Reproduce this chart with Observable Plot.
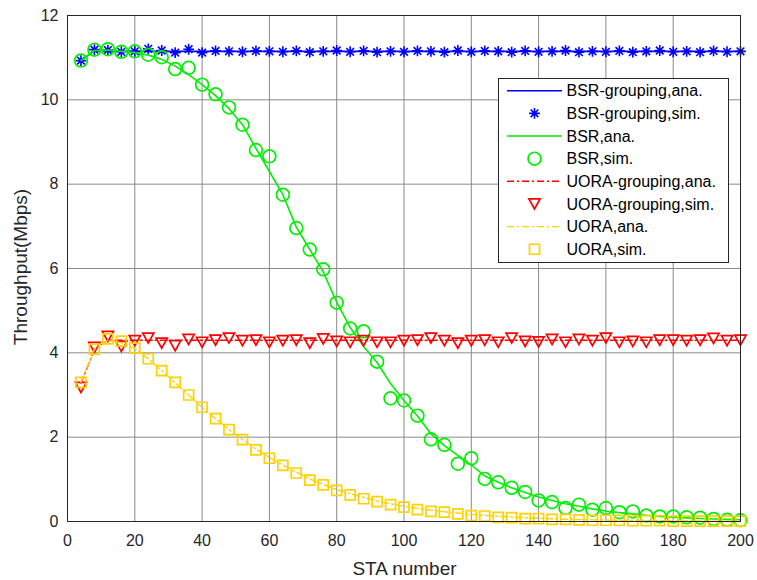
<!DOCTYPE html>
<html>
<head>
<meta charset="utf-8">
<script src="https://cdn.jsdelivr.net/npm/d3@7"></script>
<script src="https://cdn.jsdelivr.net/npm/@observablehq/plot@0.6"></script>
<style>
  html, body { margin: 0; padding: 0; background: #fff; }
  #chart svg { display: block; }
</style>
</head>
<body>
<div id="chart"></div>
<script>
// ---- data ----
const staNumber = [4,8,12,16,20,24,28,32,36,40,44,48,52,56,60,64,68,72,76,80,84,88,92,96,100,104,108,112,116,120,124,128,132,136,140,144,148,152,156,160,164,168,172,176,180,184,188,192,196,200];

const bsrGroupingAna = [10.93,11.16,11.16,11.15,11.15,11.15,11.15,11.15,11.15,11.15,11.15,11.15,11.15,11.15,11.15,11.15,11.15,11.15,11.15,11.15,11.15,11.15,11.15,11.15,11.15,11.15,11.15,11.15,11.15,11.15,11.15,11.15,11.15,11.15,11.15,11.15,11.15,11.15,11.15,11.15,11.15,11.15,11.15,11.15,11.15,11.15,11.15,11.15,11.15,11.15];
const bsrGroupingSim = [10.93,11.19,11.18,11.14,11.15,11.21,11.17,11.12,11.2,11.12,11.16,11.15,11.14,11.16,11.15,11.14,11.16,11.13,11.15,11.17,11.14,11.16,11.13,11.15,11.14,11.16,11.15,11.13,11.17,11.14,11.16,11.15,11.13,11.16,11.14,11.15,11.17,11.13,11.15,11.14,11.16,11.13,11.15,11.17,11.14,11.15,11.13,11.16,11.14,11.15];

const bsrAna = [10.93,11.17,11.18,11.15,11.12,11.06,10.96,10.8,10.6,10.36,10.1,9.79,9.41,8.85,8.3,7.75,6.98,6.45,5.92,5.2,4.6,4.15,3.77,3.27,2.87,2.5,2.08,1.8,1.57,1.34,1.08,0.93,0.8,0.69,0.58,0.5,0.42,0.36,0.3,0.25,0.21,0.18,0.15,0.12,0.1,0.085,0.07,0.06,0.05,0.04];
const bsrSim = [10.93,11.19,11.2,11.14,11.15,11.07,11.01,10.73,10.76,10.36,10.13,9.82,9.41,8.81,8.66,7.75,6.96,6.45,5.98,5.19,4.58,4.51,3.79,2.92,2.87,2.51,1.95,1.82,1.37,1.5,1.01,0.93,0.8,0.7,0.5,0.46,0.32,0.4,0.28,0.32,0.22,0.24,0.14,0.12,0.12,0.1,0.09,0.06,0.04,0.03];

const uoraGroupingAna = [3.28,4.08,4.3,4.3,4.3,4.3,4.3,4.3,4.3,4.3,4.3,4.3,4.3,4.3,4.3,4.3,4.3,4.3,4.3,4.3,4.3,4.3,4.3,4.3,4.3,4.3,4.3,4.3,4.3,4.3,4.3,4.3,4.3,4.3,4.3,4.3,4.3,4.3,4.3,4.3,4.3,4.3,4.3,4.3,4.3,4.3,4.3,4.3,4.3,4.3];
const uoraGroupingSim = [3.18,4.13,4.39,4.15,4.29,4.35,4.23,4.17,4.32,4.25,4.3,4.35,4.29,4.3,4.25,4.29,4.3,4.23,4.33,4.27,4.25,4.29,4.25,4.25,4.29,4.3,4.35,4.29,4.23,4.29,4.3,4.25,4.35,4.27,4.26,4.32,4.25,4.32,4.29,4.35,4.25,4.27,4.25,4.3,4.3,4.29,4.3,4.34,4.29,4.3];

const uoraAna = [3.3,4.08,4.3,4.24,4.1,3.86,3.58,3.29,3.0,2.71,2.44,2.18,1.94,1.72,1.52,1.34,1.17,1.01,0.88,0.76,0.66,0.57,0.49,0.42,0.36,0.31,0.27,0.23,0.2,0.17,0.145,0.125,0.105,0.09,0.075,0.064,0.054,0.046,0.039,0.033,0.028,0.024,0.02,0.017,0.014,0.012,0.01,0.009,0.008,0.007];
const uoraSim = [3.3,4.09,4.33,4.28,4.11,3.86,3.58,3.3,3.0,2.71,2.44,2.18,1.94,1.7,1.5,1.33,1.15,0.98,0.87,0.74,0.63,0.54,0.47,0.4,0.34,0.28,0.24,0.22,0.18,0.14,0.13,0.1,0.09,0.07,0.07,0.05,0.05,0.04,0.03,0.03,0.03,0.02,0.02,0.02,0.01,0.01,0.01,0.01,0.01,0.01];

const xTicks = [0,20,40,60,80,100,120,140,160,180,200];
const yTicks = [0,2,4,6,8,10,12];
const seriesLabels = ["BSR-grouping,ana.","BSR-grouping,sim.","BSR,ana.","BSR,sim.","UORA-grouping,ana.","UORA-grouping,sim.","UORA,ana.","UORA,sim."];

// ---- styles ----
const BLUE = "#0000ff", GREEN = "#00f000", RED = "#ff0000", YELLOW = "#ffd200";
const DASHDOT = "7,3,2,3";

// custom MATLAB-like marker symbols
const symAsterisk = {draw(ctx, size) {
  const r = Math.sqrt(size / Math.PI), d = r * Math.SQRT1_2;
  ctx.moveTo(-r, 0); ctx.lineTo(r, 0);
  ctx.moveTo(0, -r); ctx.lineTo(0, r);
  ctx.moveTo(-d, -d); ctx.lineTo(d, d);
  ctx.moveTo(-d, d); ctx.lineTo(d, -d);
}};
const symTriDown = {draw(ctx, size) {
  const r = Math.sqrt(size / Math.PI), h = r * 0.9;
  ctx.moveTo(-r, -h); ctx.lineTo(r, -h); ctx.lineTo(0, h); ctx.closePath();
}};
const symSquare = {draw(ctx, size) {
  const r = Math.sqrt(size / Math.PI);
  ctx.moveTo(-r, -r); ctx.lineTo(r, -r); ctx.lineTo(r, r); ctx.lineTo(-r, r); ctx.closePath();
}};
const symCircle = {draw(ctx, size) {
  const r = Math.sqrt(size / Math.PI);
  ctx.moveTo(r, 0); ctx.arc(0, 0, r, 0, 2 * Math.PI);
}};

const rows = (arr) => staNumber.map((v, i) => ({x: v, y: arr[i]}));

const series = [
  {label: seriesLabels[0], data: rows(bsrGroupingAna), kind: "line", color: BLUE, width: 1.6},
  {label: seriesLabels[1], data: rows(bsrGroupingSim), kind: "dot", color: BLUE, symbol: symAsterisk, r: 5.4, width: 1.6},
  {label: seriesLabels[2], data: rows(bsrAna), kind: "line", color: GREEN, width: 1.6},
  {label: seriesLabels[3], data: rows(bsrSim), kind: "dot", color: GREEN, symbol: symCircle, r: 6.4, width: 1.7},
  {label: seriesLabels[4], data: rows(uoraGroupingAna), kind: "line", color: RED, width: 1.4, dash: DASHDOT},
  {label: seriesLabels[5], data: rows(uoraGroupingSim), kind: "dot", color: RED, symbol: symTriDown, r: 5.6, width: 1.7},
  {label: seriesLabels[6], data: rows(uoraAna), kind: "line", color: YELLOW, width: 1.4, dash: DASHDOT},
  {label: seriesLabels[7], data: rows(uoraSim), kind: "dot", color: YELLOW, symbol: symSquare, r: 5.0, width: 1.7}
];

const seriesMarks = series.map(s => s.kind === "line"
  ? Plot.line(s.data, {x: "x", y: "y", stroke: s.color, strokeWidth: s.width, strokeDasharray: s.dash || null})
  : Plot.dot(s.data, {x: "x", y: "y", stroke: s.color, fill: "none", strokeWidth: s.width, symbol: s.symbol, r: s.r}));

const FONT = "'Liberation Sans', Arial, Helvetica, sans-serif";
const TXT = "#262626";

const chart = Plot.plot({
  width: 757,
  height: 580,
  marginLeft: 67,
  marginRight: 17,
  marginTop: 15,
  marginBottom: 59,
  style: {fontFamily: FONT, fontSize: "16px", color: TXT, background: "#fff", overflow: "visible"},
  x: {domain: [0, 200], ticks: xTicks},
  y: {domain: [0, 12], ticks: yTicks},
  marks: [
    Plot.gridX(xTicks, {stroke: "#8a8a8a", strokeOpacity: 1, strokeWidth: 1}),
    Plot.gridY(yTicks, {stroke: "#8a8a8a", strokeOpacity: 1, strokeWidth: 1}),
    Plot.axisX(xTicks, {tickSize: 0, tickPadding: 13, fontSize: 16, fill: TXT, label: null}),
    Plot.axisY(yTicks, {tickSize: 0, tickPadding: 9, fontSize: 16, fill: TXT, label: null}),
    ...seriesMarks,
    Plot.frame({stroke: TXT, strokeWidth: 1})
  ]
});

document.getElementById("chart").appendChild(chart);

// axis titles and legend
const svg = d3.select(chart);
svg.append("text")
  .attr("x", 404.5).attr("y", 575)
  .attr("text-anchor", "middle")
  .attr("font-family", FONT).attr("font-size", 19).attr("fill", TXT)
  .text("STA number");
svg.append("text")
  .attr("transform", "translate(27,267) rotate(-90)")
  .attr("text-anchor", "middle")
  .attr("font-family", FONT).attr("font-size", 19).attr("fill", TXT)
  .text("Throughput(Mbps)");

const lg = svg.append("g");
lg.append("rect")
  .attr("x", 498.5).attr("y", 78.5).attr("width", 230).attr("height", 184)
  .attr("fill", "#fff").attr("stroke", TXT).attr("stroke-width", 1);
series.forEach((s, i) => {
  const cy = 90.7 + i * 22.65;
  if (s.kind === "line") {
    lg.append("line")
      .attr("x1", 507).attr("x2", 562).attr("y1", cy).attr("y2", cy)
      .attr("stroke", s.color).attr("stroke-width", s.width)
      .attr("stroke-dasharray", s.dash || null);
  } else {
    lg.append("path")
      .attr("transform", `translate(534.5,${cy})`)
      .attr("d", d3.symbol().type(s.symbol).size(Math.PI * s.r * s.r)())
      .attr("fill", "none").attr("stroke", s.color).attr("stroke-width", s.width);
  }
  lg.append("text")
    .attr("x", 566.5).attr("y", cy).attr("dy", "0.36em")
    .attr("text-anchor", "start")
    .attr("font-family", FONT).attr("font-size", 16).attr("fill", "#000")
    .text(s.label);
});
</script>
</body>
</html>
